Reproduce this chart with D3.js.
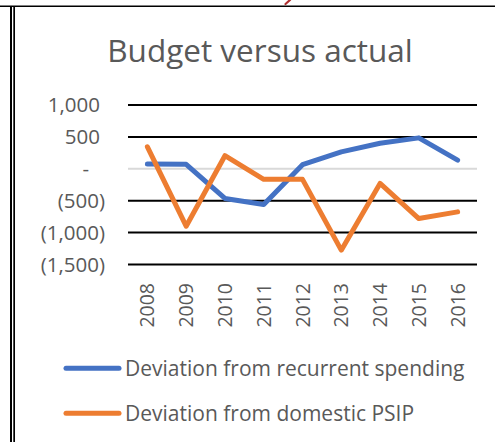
<!DOCTYPE html>
<html>
<head>
<meta charset="utf-8">
<script src="https://cdn.jsdelivr.net/npm/d3@7"></script>
<style>
  body { margin: 0; background: #fff; }
  svg { display: block; font-family: "Open Sans", sans-serif; }
</style>
</head>
<body>
<div id="chart"></div>
<script>
// chart data
var years = ["2008", "2009", "2010", "2011", "2012", "2013", "2014", "2015", "2016"];
var recurrent = [75, 70, -465, -560, 65, 265, 400, 485, 135];
var domesticPSIP = [345, -900, 205, -165, -165, -1275, -230, -780, -675];
var yTicks = [1000, 500, 0, -500, -1000, -1500];
var seriesNames = ["Deviation from recurrent spending", "Deviation from domestic PSIP"];
var seriesColors = ["#4472C4", "#ED7D31"];

var width = 495, height = 442;
var margin = { top: 105, right: 18, bottom: 178, left: 128 };

var svg = d3.select("#chart").append("svg")
    .attr("width", width)
    .attr("height", height);

// page frame: top rule and double left rule
svg.append("line")
    .attr("x1", 0).attr("x2", width)
    .attr("y1", 6.3).attr("y2", 6.3)
    .attr("stroke", "#000").attr("stroke-width", 1.6);
svg.append("rect")
    .attr("x", 10).attr("y", 6).attr("width", 2).attr("height", height)
    .attr("fill", "#000");
svg.append("rect")
    .attr("x", 13.3).attr("y", 6).attr("width", 1.8).attr("height", height)
    .attr("fill", "#000");
svg.append("rect")
    .attr("x", 15.1).attr("y", 7.1).attr("width", width).attr("height", height)
    .attr("fill", "#fff");

// tail of a red letter from the page text above (only a stroke is visible)
svg.append("path")
    .attr("d", "M290,0 L285.5,4")
    .attr("stroke", "#b03030")
    .attr("stroke-width", 2.2)
    .attr("stroke-linecap", "round");

// title
svg.append("text")
    .attr("x", 260).attr("y", 62)
    .attr("text-anchor", "middle")
    .attr("font-size", 31.5)
    .attr("fill", "#595959")
    .text("Budget versus actual");

var x = d3.scalePoint()
    .domain(years)
    .range([margin.left, width - margin.right])
    .padding(0.5);

var y = d3.scaleLinear()
    .domain([-1500, 1000])
    .range([height - margin.bottom + 0.5, margin.top]);

// gridlines
svg.append("g")
    .selectAll("line")
    .data(yTicks)
    .enter()
    .append("line")
    .attr("x1", margin.left)
    .attr("x2", width - margin.right)
    .attr("y1", d => y(d))
    .attr("y2", d => y(d))
    .attr("stroke", d => d === 0 ? "#d9d9d9" : "#000")
    .attr("stroke-width", 2);

// y axis labels in accounting style
function fmt(d) {
    if (d === 0) return "-";
    var s = d3.format(",")(Math.abs(d));
    return d < 0 ? "(" + s + ")" : s;
}
svg.append("g")
    .selectAll("text")
    .data(yTicks)
    .enter()
    .append("text")
    .attr("x", d => d < 0 ? 105 : (d === 0 ? 89 : 100))
    .attr("y", d => y(d))
    .attr("dy", "0.36em")
    .attr("text-anchor", "end")
    .attr("font-size", 20.5)
    .attr("fill", "#595959")
    .text(fmt);

// x axis labels, rotated
svg.append("g")
    .selectAll("text")
    .data(years)
    .enter()
    .append("text")
    .attr("transform", d => "translate(" + x(d) + "," + 283 + ") rotate(-90)")
    .attr("dy", "0.36em")
    .attr("text-anchor", "end")
    .attr("font-size", 19.5)
    .attr("fill", "#595959")
    .text(d => d);

// series lines
var line = d3.line()
    .x((d, i) => x(years[i]))
    .y(d => y(d));

[recurrent, domesticPSIP].forEach(function (values, k) {
    svg.append("path")
        .datum(values)
        .attr("d", line)
        .attr("fill", "none")
        .attr("stroke", seriesColors[k])
        .attr("stroke-width", 5)
        .attr("stroke-linejoin", "round")
        .attr("stroke-linecap", "round");
});

// legend
var legend = svg.append("g")
    .selectAll("g")
    .data(seriesNames)
    .enter()
    .append("g")
    .attr("transform", (d, i) => "translate(0," + (368.3 + i * 45) + ")");
legend.append("line")
    .attr("x1", 66).attr("x2", 119)
    .attr("stroke", (d, i) => seriesColors[i])
    .attr("stroke-width", 5)
    .attr("stroke-linecap", "round");
legend.append("text")
    .attr("x", 125)
    .attr("dy", "0.36em")
    .attr("font-size", 21)
    .attr("fill", "#595959")
    .text(d => d);
</script>
</body>
</html>
